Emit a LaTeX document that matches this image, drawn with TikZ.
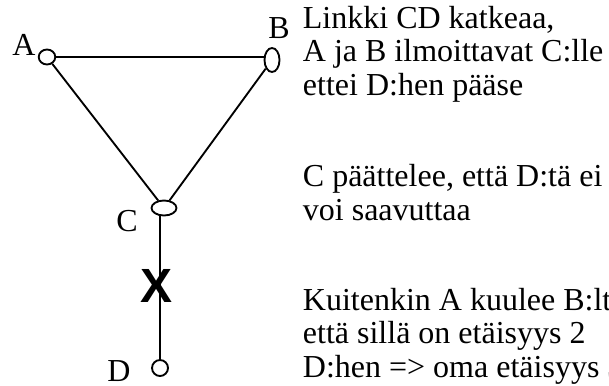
\documentclass[tikz,border=0pt]{standalone}
\usepackage{fontspec}
\setmainfont{Liberation Serif}
\newfontfamily\xsans{Liberation Sans}
\usepackage{tikz}
\usetikzlibrary{shapes.geometric}

\begin{document}
\begin{tikzpicture}[x=0.75pt,y=-0.75pt,line width=1.4pt,
  font=\fontsize{24pt}{25pt}\selectfont,
  site/.style={draw,ellipse,inner sep=0pt},
  lbl/.style={inner sep=0pt},
  txt/.style={anchor=base west,align=left,inner sep=0pt}]
  \useasboundingbox (0,0) rectangle (609,385);
  \clip (0,0) rectangle (609,385);
  \node[site,minimum width=12.4pt,minimum height=11.25pt] (A) at (47,57) {};
  \node[site,minimum width=11.25pt,minimum height=18pt] (B) at (272,60) {};
  \node[site,minimum width=18.75pt,minimum height=11.25pt] (C) at (164,208) {};
  \node[site,minimum width=12pt,minimum height=12pt] (D) at (160,368) {};
  \node[lbl] (lA) at (24,45) {A};
  \node[lbl] (lB) at (279,28) {B};
  \node[lbl] (lC) at (127,221) {C};
  \node[lbl] (lD) at (119,371) {D};
  \draw (A.east) -- (A.east -| B.west);
  \draw (A) -- (C);
  \draw (B) -- (C);
  \draw (D.north) -- (D.north |- C.south);
  \node[font=\xsans\bfseries\fontsize{36pt}{36pt}\selectfont] (cut) at (157,286) {X};
  % the last line of each text sits on the given point
  \node[txt] (info1) at (302,95) {Linkki CD katkeaa,\\A ja B ilmoittavat C:lle\\ettei D:hen pääse};
  \node[txt] (info2) at (302,220) {C päättelee, että D:tä ei\\voi saavuttaa};
  \node[txt] (info3) at (302,377) {Kuitenkin A kuulee B:ltä,\\että sillä on etäisyys 2\\D:hen => oma etäisyys 3};
\end{tikzpicture}
\end{document}
